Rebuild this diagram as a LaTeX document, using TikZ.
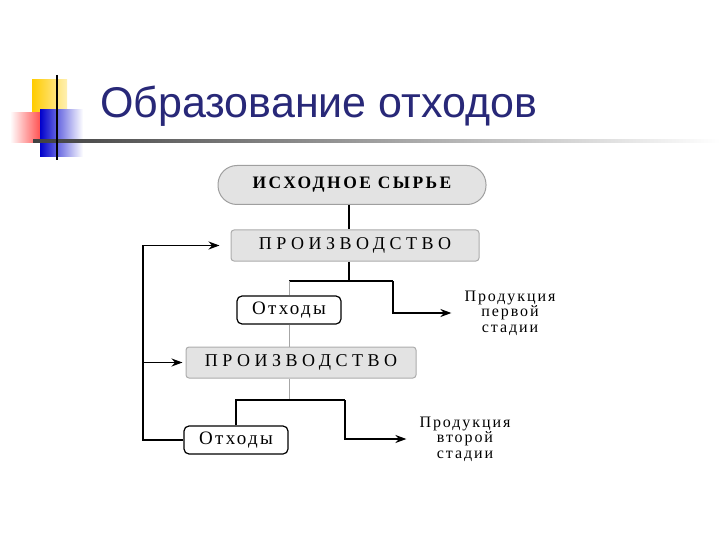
\documentclass[tikz,border=0pt]{standalone}
\usepackage{fontspec}
\setmainfont{Liberation Serif}
\newfontfamily\titlefont{Liberation Sans}
\newfontfamily\rawfont[LetterSpace=14]{Liberation Serif}
\newfontfamily\stagefont[LetterSpace=25]{Liberation Serif}
\newfontfamily\labelfont[LetterSpace=12]{Liberation Serif}
\usetikzlibrary{positioning,arrows.meta,calc}
\definecolor{titleblue}{RGB}{40,40,120}
\definecolor{markyellow}{RGB}{255,204,0}

\begin{document}
\begin{tikzpicture}[x=1pt,y=-1pt,
  >={Stealth[length=11pt,width=8pt]},
  raw/.style={draw=gray!75,line width=1pt,fill=gray!22,rounded corners=19pt,minimum width=268pt,minimum height=39pt,inner sep=2pt,font=\rawfont\fontsize{17.5}{17.5}\selectfont\bfseries},
  stage/.style={draw=gray!65,line width=1pt,fill=gray!22,rounded corners=3pt,minimum height=31pt,inner sep=2pt,font=\stagefont\fontsize{18}{18}\selectfont},
  waste/.style={draw,line width=1.2pt,rounded corners=5pt,fill=white,minimum width=104pt,minimum height=28pt,inner sep=2pt,font=\labelfont\fontsize{19}{19}\selectfont},
  product/.style={align=center,inner sep=1pt,font=\labelfont\fontsize{16}{15.5}\selectfont},
  link/.style={line width=1.6pt},
  thinlink/.style={line width=0.6pt,gray!70},
]
\useasboundingbox (0,0) rectangle (720,540);

% title and its corner mark
\shade[left color=markyellow,right color=markyellow!30] (32,80) rectangle (67,118);
\shade[left color=white,right color=red!90] (10,113) rectangle (50,143);
\shade[left color=blue!80!black,middle color=blue!70,right color=white] (40,110) rectangle (83,157);
\shade[left color=black!75,right color=white] (33,140) rectangle (720,142.5);
\draw[line width=2pt] (57,75) -- (57,160);
\node[anchor=base west,inner sep=0,text=titleblue,font=\titlefont\fontsize{43}{43}\selectfont] (title) at (100,118) {Образование отходов};

% boxes
\node[raw] (raw) at (352,185) {ИСХОДНОЕ СЫРЬЕ};
\node[stage,minimum width=248pt] (stage1) at (355,245.5) {ПРОИЗВОДСТВО};
\node[waste] (waste1) at (289,310) {Отходы};
\node[stage,minimum width=230pt] (stage2) at (301,362.5) {ПРОИЗВОДСТВО};
\node[waste] (waste2) at (236,440) {Отходы};
\node[product] (out1) at (510,313) {Продукция\\первой\\стадии};
\node[product] (out2) at (465,439) {Продукция\\второй\\стадии};

% forks
\coordinate (split1) at (349,281);
\coordinate (fork1) at (393,281);
\coordinate (split2) at (289,400);
\coordinate (fork2) at (345,400);
\coordinate (loop) at (143,440);

\draw[link] (raw.south -| split1) -- (stage1.north -| split1);
\draw[link] (stage1.south -| split1) -- (split1);
\draw[link] (waste1.north |- split1) -- (fork1);
\draw[link,->,shorten >=12pt] (fork1) |- (out1.west);
\draw[thinlink] (waste1.north |- split1) -- (waste1.north);
\draw[thinlink] (waste1.south) -- (waste1.south |- stage2.north);
\draw[thinlink] (stage2.south -| split2) -- (split2);
\draw[link] (waste2.north) |- (fork2);
\draw[link,->,shorten >=12pt] (fork2) |- (out2.west);

% return of the waste
\draw[link,->,shorten >=11pt] (waste2.west) -| (loop |- stage1.west) -- (stage1.west);
\draw[link,->,shorten >=3pt] (loop |- stage2.west) -- (stage2.west);
\end{tikzpicture}
\end{document}
